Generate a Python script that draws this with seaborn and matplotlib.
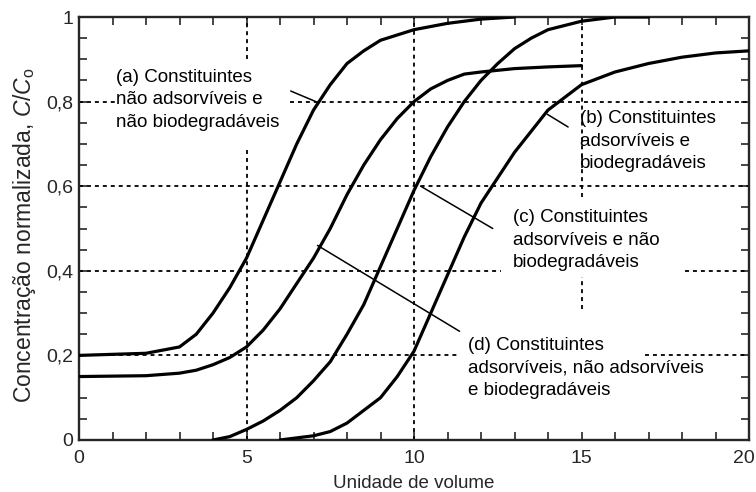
import numpy as np
import pandas as pd
import matplotlib
matplotlib.use("Agg")
import matplotlib.pyplot as plt
import matplotlib.transforms as mtransforms
from matplotlib.ticker import MultipleLocator, FixedLocator, FixedFormatter
import seaborn as sns

# ---- data ----
vol_a = [0, 2, 3, 3.5, 4, 4.5, 5, 5.5, 6, 6.5, 7, 7.5, 8, 8.5, 9, 10, 11, 12, 13]
conc_a = [0.20, 0.205, 0.22, 0.25, 0.30, 0.36, 0.43, 0.52, 0.61, 0.70, 0.78, 0.84, 0.89, 0.92, 0.945, 0.97, 0.985, 0.995, 1.0]

vol_b = [0, 2, 3, 3.5, 4, 4.5, 5, 5.5, 6, 6.5, 7, 7.5, 8, 8.5, 9, 9.5, 10, 10.5, 11, 11.5, 12, 13, 14, 15]
conc_b = [0.15, 0.152, 0.158, 0.165, 0.178, 0.195, 0.22, 0.26, 0.31, 0.37, 0.43, 0.50, 0.58, 0.65, 0.71, 0.76, 0.80, 0.83, 0.85, 0.865, 0.87, 0.878, 0.882, 0.885]

vol_c = [4, 4.5, 5, 5.5, 6, 6.5, 7, 7.5, 8, 8.5, 9, 9.5, 10, 10.5, 11, 11.5, 12, 12.5, 13, 13.5, 14, 15, 16, 17]
conc_c = [0.0, 0.008, 0.025, 0.045, 0.07, 0.10, 0.14, 0.185, 0.25, 0.32, 0.41, 0.50, 0.59, 0.67, 0.74, 0.80, 0.85, 0.89, 0.925, 0.95, 0.97, 0.99, 1.0, 1.0]

vol_d = [6, 7, 7.5, 8, 8.5, 9, 9.5, 10, 10.5, 11, 11.5, 12, 12.5, 13, 13.5, 14, 14.5, 15, 16, 17, 18, 19, 20]
conc_d = [0.0, 0.01, 0.02, 0.04, 0.07, 0.10, 0.15, 0.21, 0.30, 0.39, 0.48, 0.56, 0.62, 0.68, 0.73, 0.78, 0.81, 0.84, 0.87, 0.89, 0.905, 0.915, 0.92]

curve_names = ["a", "b", "c", "d"]

x_ticks = [0, 5, 10, 15, 20]
x_labels = ["0", "5", "10", "15", "20"]
y_ticks = [0, 0.2, 0.4, 0.6, 0.8, 1.0]
y_labels = ["0", "0,2", "0,4", "0,6", "0,8", "1"]

labels = {
    "a": "(a) Constituintes\nnão adsorvíveis e\nnão biodegradáveis",
    "b": "(b) Constituintes\nadsorvíveis e\nbiodegradáveis",
    "c": "(c) Constituintes\nadsorvíveis e não\nbiodegradáveis",
    "d": "(d) Constituintes\nadsorvíveis, não adsorvíveis\ne biodegradáveis",
}
x_title = "Unidade de volume"
y_title = r"Concentração normalizada, $C/C_\mathrm{o}$"

# ---- build long-form table ----
frames = []
for name, xs, ys in zip(curve_names, [vol_a, vol_b, vol_c, vol_d], [conc_a, conc_b, conc_c, conc_d]):
    frames.append(pd.DataFrame({"vol": xs, "conc": ys, "curve": name}))
df = pd.concat(frames, ignore_index=True)

sns.set_style("ticks")
plt.rcParams["font.family"] = ["Liberation Sans", "DejaVu Sans"]
plt.rcParams["mathtext.fontset"] = "custom"
plt.rcParams["mathtext.it"] = "Liberation Sans:italic"
plt.rcParams["mathtext.rm"] = "Liberation Sans"

W, H = 756, 492
L, R, T, B = 79, 749, 17, 440
fig = plt.figure(figsize=(W / 100, H / 100), dpi=100)
ax = fig.add_axes([L / W, 1 - B / H, (R - L) / W, (B - T) / H])

# reference dotted lines
dot = dict(color="black", lw=1.3, ls=(0, (2.2, 2.2)), zorder=1)
for y, segs in [(0.8, [(0, 1.15), (6.3, 20)]), (0.6, [(0, 20)]),
                (0.4, [(0, 12.6), (18.1, 20)]), (0.2, [(0, 11.3), (16.9, 20)])]:
    for x0, x1 in segs:
        ax.plot([x0, x1], [y, y], **dot)
for x, segs in [(5, [(0.9, 1.0), (0.0, 0.69)]), (10, [(0, 1.0)]),
                (15, [(0.575, 1.0), (0.31, 0.385)])]:
    for y0, y1 in segs:
        ax.plot([x, x], [y0, y1], **dot)

# curves
sns.lineplot(data=df, x="vol", y="conc", units="curve", estimator=None,
             sort=False, color="black", lw=2.3, ax=ax, legend=False, zorder=3)

# leader lines
lead = dict(color="black", lw=1.1, zorder=2)
ax.plot([6.32, 7.07], [0.825, 0.80], **lead)
ax.plot([14.6, 13.98], [0.74, 0.77], **lead)
ax.plot([12.35, 10.2], [0.50, 0.60], **lead)
ax.plot([7.12, 11.36], [0.46, 0.257], **lead)

# annotation texts
tkw = dict(fontsize=13.5, va="top", ha="left", linespacing=1.42, color="black")
ax.text(1.1, 0.878, labels["a"], **tkw)
ax.text(14.95, 0.78, labels["b"], **tkw)
ax.text(12.95, 0.545, labels["c"], **tkw)
ax.text(11.6, 0.244, labels["d"], **tkw)

ax.set_xlim(0, 20)
ax.set_ylim(0, 1)
ax.xaxis.set_major_locator(FixedLocator(x_ticks))
ax.xaxis.set_major_formatter(FixedFormatter(x_labels))
ax.yaxis.set_major_locator(FixedLocator(y_ticks))
ax.yaxis.set_major_formatter(FixedFormatter(y_labels))
ax.xaxis.set_minor_locator(MultipleLocator(1))
ax.yaxis.set_minor_locator(MultipleLocator(0.05))
ax.tick_params(which="both", direction="in", top=True, right=True,
               length=6, width=1.2, labelsize=14)
ax.tick_params(axis="x", which="major", pad=7)
ax.tick_params(axis="y", which="major", pad=4)
for s in ax.spines.values():
    s.set_linewidth(1.7)
    s.set_visible(True)

ax.set_xlabel(x_title, fontsize=13.5, labelpad=6)
ax.set_ylabel(y_title, fontsize=16.5)
ax.yaxis.set_label_coords(-0.061, 0.485)

fig.canvas.draw()
for lab in ax.get_xticklabels():
    if lab.get_text() == "20":
        lab.set_ha("right")
        lab.set_transform(lab.get_transform() +
                          mtransforms.ScaledTranslation(4 / 72, 0, fig.dpi_scale_trans))

fig.savefig("out.png", dpi=100)
